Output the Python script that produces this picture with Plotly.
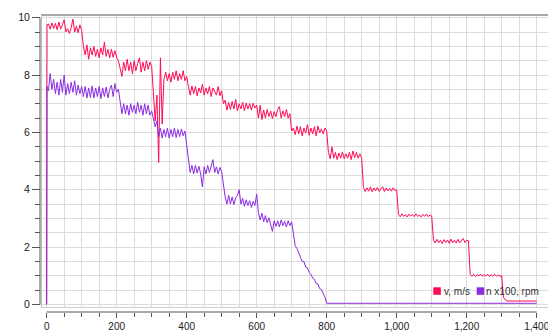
import plotly.graph_objects as go

# ---------------- data ----------------
v_time = [0, 1] + list(range(5, 1320, 5)) + [1400]
v_vals = [0, 9.75,
    9.78, 9.6, 9.82, 9.62, 9.8, 9.58, 9.85, 9.6, 9.75, 9.93, 9.5, 9.62, 9.45, 9.65, 9.95, 9.5, 9.7, 9.48, 9.75, 9.55,
    9.0, 8.7, 9.05, 8.55, 8.95, 8.7, 9.0, 8.65, 8.9, 8.6, 8.95, 8.7, 9.15, 8.65, 8.9, 8.6, 8.9, 8.62, 8.85, 8.6,
    8.5, 8.25, 7.95, 8.45, 8.15, 8.55, 8.15, 8.45, 8.05, 8.5, 8.15, 8.4, 8.6, 8.1, 8.45, 8.15, 8.5, 8.2, 8.45, 8.3,
    7.4, 6.4, 7.3, 4.95, 8.6, 6.3, 7.85, 8.1, 7.8, 8.05, 7.75, 8.1, 7.85, 8.15, 7.8, 8.05, 7.85, 8.15, 7.8, 7.95,
    7.6, 7.3, 7.62, 7.35, 7.6, 7.28, 7.55, 7.38, 7.68, 7.3, 7.55, 7.35, 7.6, 7.25, 7.55, 7.4, 7.3, 7.6, 7.28, 7.45,
    7.0, 7.12, 6.78, 7.05, 6.8, 7.08, 6.82, 7.15, 6.75, 7.0, 6.82, 7.05, 6.75, 7.02, 6.82, 7.0, 6.78, 7.02, 6.85, 6.95,
    6.5, 6.95, 6.45, 6.78, 6.5, 6.8, 6.55, 6.75, 6.48, 6.72, 6.55, 6.8, 6.9, 6.5, 6.75, 6.55, 6.8, 6.5, 6.65, 6.05,
    6.15, 5.92, 6.22, 5.95, 6.2, 5.88, 6.15, 5.98, 6.27, 5.9, 6.15, 5.95, 6.2, 5.88, 6.22, 5.98, 6.12, 5.95, 6.15, 6.05,
    5.3, 5.08, 5.5, 5.1, 5.3, 5.05, 5.28, 5.1, 5.32, 5.08, 5.25, 5.1, 5.3, 5.05, 5.35, 5.12, 5.3, 5.1, 5.25, 5.1,
    4.08, 3.94, 4.07, 3.95, 4.1, 3.93, 4.06, 3.96, 4.08, 3.94, 4.05, 4.1, 3.94, 4.06, 3.96, 4.05, 3.95, 4.07, 3.97, 4.0,
    3.14, 3.06, 3.16, 3.07, 3.13, 3.05, 3.15, 3.08, 3.14, 3.06, 3.16, 3.07, 3.12, 3.05, 3.14, 3.07, 3.15, 3.06, 3.12, 3.08,
    2.25, 2.14, 2.27, 2.15, 2.24, 2.12, 2.26, 2.16, 2.25, 2.13, 2.28, 2.15, 2.24, 2.14, 2.27, 2.15, 2.25, 2.3, 2.16, 2.24,
    2.22, 1.05, 0.98, 1.05, 0.97, 1.04, 0.99, 1.06, 0.98, 1.04, 0.99, 1.05, 0.97, 1.04, 0.98, 1.05, 0.99, 1.03, 0.98, 1.0,
    0.25, 0.16, 0.12,
    0.12]

n_time = [0, 1] + list(range(5, 805, 5)) + [1400]
n_vals = [0, 7.6,
    7.45, 8.05, 7.5, 7.85, 7.35, 7.75, 7.3, 7.85, 7.4, 8.0, 7.3, 7.7, 7.35, 7.75, 7.4, 7.8, 7.3, 7.65, 7.35, 7.6,
    7.25, 7.6, 7.2, 7.55, 7.22, 7.62, 7.2, 7.55, 7.25, 7.6, 7.18, 7.55, 7.25, 7.58, 7.2, 7.5, 7.65, 7.25, 7.7, 7.4,
    7.5, 7.05, 6.65, 7.0, 6.65, 6.95, 6.6, 7.0, 6.7, 6.95, 6.65, 7.05, 6.7, 6.95, 6.6, 7.0, 6.65, 6.95, 6.6, 6.75,
    6.45, 6.2, 6.4, 5.85, 6.15, 5.8, 6.1, 5.85, 6.15, 5.8, 6.1, 5.85, 6.15, 5.82, 6.1, 5.85, 6.12, 5.88, 6.05, 5.5,
    5.0, 4.6, 4.85, 4.55, 4.85, 4.58, 4.82, 4.55, 4.1, 4.8, 4.55, 4.85, 4.6, 4.8, 5.05, 4.6, 4.8, 4.55, 4.78, 4.62,
    4.1, 3.75, 3.5, 3.8, 3.5, 3.75, 3.48, 3.72, 3.8, 4.0, 3.5, 3.7, 3.42, 3.65, 3.45, 3.62, 3.38, 3.6, 3.45, 3.85,
    3.2, 2.95, 3.18, 2.88, 3.1, 2.85, 3.02, 2.78, 2.55, 2.92, 2.72, 2.92, 2.7, 2.95, 2.75, 2.9, 2.7, 2.92, 2.75, 2.88,
    2.4, 2.05, 1.95, 1.8, 1.65, 1.5, 1.5, 1.3, 1.28, 1.12, 1.05, 0.92, 0.88, 0.72, 0.72, 0.55, 0.52, 0.38, 0.25, 0.04,
    0.04]

series_names = ["v, m/s", "n x100, rpm"]
series_colors = ["#ff0a52", "#8a2be2"]
x_ticks = [0, 200, 400, 600, 800, 1000, 1200, 1400]
y_ticks = [0, 2, 4, 6, 8, 10]

# ---------------- layout helpers (pixel -> paper) ----------------
W, H = 548, 332
ML, MR, MT, MB = 40, 0, 15, 20
PW, PH = W - ML - MR, H - MT - MB


def px(p):
    return (p - ML) / PW


def py(p):
    return (H - MB - p) / PH


FONT = "Liberation Sans, Arial, sans-serif"
GRID = "#dcdcdc"
AX = "#555555"

fig = go.Figure()
fig.add_trace(go.Scatter(x=v_time, y=v_vals, mode="lines", name=series_names[0],
                         line=dict(color=series_colors[0], width=1), showlegend=False))
fig.add_trace(go.Scatter(x=n_time, y=n_vals, mode="lines", name=series_names[1],
                         line=dict(color=series_colors[1], width=1), showlegend=False))

fig.update_layout(
    width=W, height=H,
    margin=dict(l=ML, r=MR, t=MT, b=MB, autoexpand=False),
    paper_bgcolor="white", plot_bgcolor="white",
    font=dict(family=FONT, size=10.5, color="#222222"),
    xaxis=dict(
        domain=[px(42), 1], range=[-13.3, 1432.3], anchor="free", position=0,
        tickvals=x_ticks, separatethousands=True, tickformat=",d",
        tickfont=dict(size=10), ticklabeloverflow="allow",
        showgrid=True, gridcolor=GRID, gridwidth=1, zeroline=False, showline=False,
        ticks="outside", ticklen=5, tickcolor=AX, tickwidth=1,
        minor=dict(dtick=50, tick0=0, showgrid=True, gridcolor=GRID, gridwidth=1,
                   ticks="outside", ticklen=4, tickcolor=AX),
    ),
    yaxis=dict(
        domain=[py(307.3), 1], range=[-0.1, 10.094], anchor="free", position=0,
        tickvals=y_ticks,
        showgrid=True, gridcolor=GRID, gridwidth=1, zeroline=False, showline=False,
        ticks="outside", ticklen=8, tickcolor=AX, tickwidth=1,
        minor=dict(dtick=0.5, tick0=0, showgrid=True, gridcolor=GRID, gridwidth=1,
                   ticks="outside", ticklen=5, tickcolor=AX),
    ),
)

shapes = [
    # plot frame
    dict(type="line", xref="paper", yref="paper", x0=px(41), x1=1, y0=py(15), y1=py(15),
         line=dict(color="#a8a8a8", width=2)),
    dict(type="line", xref="paper", yref="paper", x0=px(41.5), x1=px(41.5), y0=py(15), y1=py(307.5),
         line=dict(color="#bdbdbd", width=1)),
    dict(type="line", xref="paper", yref="paper", x0=px(41.5), x1=1, y0=py(307.5), y1=py(307.5),
         line=dict(color="#cfcfcf", width=1)),
    # axis lines spanning only the tick range
    dict(type="line", xref="x", yref="paper", x0=x_ticks[0], x1=x_ticks[-1], y0=0, y1=0,
         line=dict(color=AX, width=1)),
    dict(type="line", xref="paper", yref="y", x0=0, x1=0, y0=y_ticks[0], y1=y_ticks[-1],
         line=dict(color=AX, width=1)),
]

# legend (square swatches + text)
legend_x = [433.3, 476.7]
legend_tx = [441.8, 483.6]
annotations = []
for i in range(2):
    shapes.append(dict(type="rect", xref="paper", yref="paper",
                       x0=px(legend_x[i]), x1=px(legend_x[i] + 7.5),
                       y0=py(294.8), y1=py(287.3),
                       fillcolor=series_colors[i], line=dict(width=0)))
    annotations.append(dict(xref="paper", yref="paper", x=px(legend_tx[i]), y=py(291),
                            xanchor="left", yanchor="middle", showarrow=False,
                            text=series_names[i], font=dict(size=10, color="#333333")))

fig.update_layout(shapes=shapes, annotations=annotations)

fig.write_html("out.html")
